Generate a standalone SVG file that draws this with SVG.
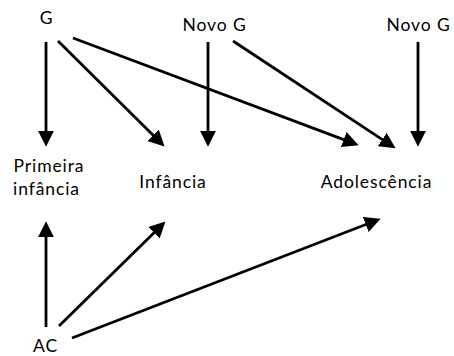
<svg xmlns="http://www.w3.org/2000/svg" width="454" height="356" viewBox="0 0 454 356">
  <style>
    .lbl { font-family: "Lato", "Open Sans", "DejaVu Sans", sans-serif; font-size: 17.5px; letter-spacing: 0.9px; fill: #000; text-anchor: middle; }
    .edge { stroke: #000; stroke-width: 2.8; fill: none; marker-end: url(#head); }
  </style>
  <defs>
    <marker id="head" markerUnits="userSpaceOnUse" markerWidth="16" markerHeight="16" viewBox="0 0 15 15" refX="4" refY="7.5" orient="auto">
      <path d="M0,0 L15,7.5 L0,15 z" fill="#000"/>
    </marker>
  </defs>
  <rect width="454" height="356" fill="#fff"/>

  <g id="nodes">
    <g id="g"><text class="lbl" x="46.5" y="24">G</text></g>
    <g id="novo-g-1"><text class="lbl" x="214.5" y="31">Novo G</text></g>
    <g id="novo-g-2"><text class="lbl" x="418.5" y="31">Novo G</text></g>
    <g id="primeira-infancia"><text class="lbl" x="49" y="172">Primeira</text><text class="lbl" x="46.5" y="195">infância</text></g>
    <g id="infancia"><text class="lbl" x="173" y="188">Infância</text></g>
    <g id="adolescencia"><text class="lbl" x="376.5" y="188">Adolescência</text></g>
    <g id="ac"><text class="lbl" x="45.5" y="352">AC</text></g>
  </g>

  <g id="connectors">
    <line class="edge" x1="46" y1="42" x2="46" y2="135"/>
    <line class="edge" x1="58" y1="41" x2="156.2" y2="138.3"/>
    <line class="edge" x1="73" y1="38" x2="347.7" y2="141.1"/>
    <line class="edge" x1="208" y1="42" x2="208" y2="135"/>
    <line class="edge" x1="233" y1="41" x2="385.8" y2="141.9"/>
    <line class="edge" x1="418" y1="42" x2="418" y2="135"/>
    <line class="edge" x1="46" y1="327" x2="46" y2="233"/>
    <line class="edge" x1="59" y1="326" x2="157.1" y2="229.7"/>
    <line class="edge" x1="72" y1="338" x2="369.7" y2="223"/>
  </g>
</svg>
